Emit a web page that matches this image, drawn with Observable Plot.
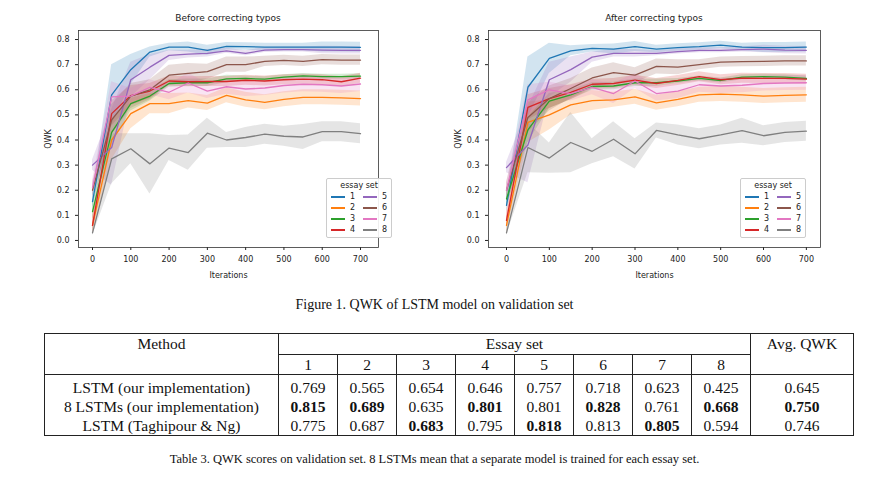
<!DOCTYPE html>
<html lang="en">
<head>
<meta charset="utf-8">
<title>QWK of LSTM model</title>
<script src="https://cdn.jsdelivr.net/npm/d3@7"></script>
<script src="https://cdn.jsdelivr.net/npm/@observablehq/plot@0.6"></script>
<style>
  body { margin: 0; width: 869px; height: 477px; position: relative; background: #fff; font-family: 'DejaVu Sans', sans-serif; }
  .chart { position: absolute; top: 20px; }
  .ttl { position: absolute; top: 13px; font-size: 9px; color: #222; text-align: center; }
  .legend { position: absolute; border: 1px solid #ccc; background: rgba(255,255,255,0.9); font-size: 8px; color: #222; padding: 2px 4px; border-radius: 2px; }
  .legend .lt { text-align: center; margin-bottom: 1px; }
  .legend .grid { display: grid; grid-template-columns: auto auto; column-gap: 8px; row-gap: 0px; }
  .legend .it { display: flex; align-items: center; height: 11px; }
  .legend .sw { display: inline-block; width: 14px; height: 0; border-top: 2px solid; margin-right: 5px; }
  .cap { position: absolute; left: 0; width: 869px; text-align: center; font-family: 'Liberation Serif', serif; color: #111; }
  table { position: absolute; left: 44px; top: 333px; border-collapse: collapse; font-family: 'Liberation Serif', serif; font-size: 15.5px; color: #111; }
  td { text-align: center; padding: 0 2px; line-height: 19px; }
  .b { font-weight: bold; }
</style>
</head>
<body>
<div class="ttl" style="left:78px;width:300px">Before correcting typos</div>
<div class="ttl" style="left:488px;width:332px">After correcting typos</div>
<div id="left" class="chart" style="left:40px"></div>
<div id="right" class="chart" style="left:450px"></div>
<div class="cap" style="top:297px;font-size:14px">Figure 1. QWK of LSTM model on validation set</div>
<table id="tbl"></table>
<div class="cap" style="top:452px;font-size:12.5px">Table 3. QWK scores on validation set. 8 LSTMs mean that a separate model is trained for each essay set.</div>
<script>
const iterations = [0,50,100,150,200,250,300,350,400,450,500,550,600,650,700];
const essaySets = ["1","2","3","4","5","6","7","8"];
const colors = ["#1f77b4","#ff7f0e","#2ca02c","#d62728","#9467bd","#8c564b","#e377c2","#7f7f7f"];

// before correcting typos
const before1 = [0.155,0.58,0.68,0.75,0.77,0.77,0.757,0.773,0.772,0.77,0.77,0.77,0.77,0.77,0.769];
const before2 = [0.06,0.40,0.505,0.545,0.545,0.557,0.547,0.578,0.56,0.55,0.562,0.57,0.57,0.568,0.565];
const before3 = [0.115,0.43,0.545,0.575,0.625,0.628,0.628,0.643,0.645,0.642,0.65,0.655,0.652,0.652,0.654];
const before4 = [0.06,0.505,0.577,0.595,0.635,0.632,0.633,0.633,0.638,0.635,0.64,0.642,0.64,0.632,0.646];
const before5 = [0.30,0.37,0.64,0.69,0.737,0.742,0.745,0.755,0.745,0.758,0.76,0.76,0.758,0.757,0.757];
const before6 = [0.20,0.48,0.575,0.60,0.658,0.665,0.672,0.70,0.70,0.713,0.717,0.713,0.72,0.718,0.718];
const before7 = [0.21,0.572,0.575,0.61,0.59,0.627,0.595,0.612,0.603,0.607,0.617,0.622,0.62,0.615,0.623];
const before8 = [0.03,0.325,0.365,0.305,0.368,0.35,0.427,0.40,0.41,0.423,0.415,0.412,0.433,0.433,0.425];

// after correcting typos
const after1 = [0.14,0.61,0.725,0.755,0.765,0.762,0.772,0.762,0.768,0.772,0.778,0.77,0.768,0.768,0.77];
const after2 = [0.06,0.47,0.50,0.54,0.557,0.56,0.572,0.548,0.562,0.58,0.583,0.58,0.575,0.578,0.58];
const after3 = [0.165,0.44,0.555,0.58,0.613,0.615,0.628,0.628,0.635,0.645,0.637,0.65,0.652,0.65,0.645];
const after4 = [0.08,0.53,0.565,0.59,0.622,0.625,0.638,0.625,0.637,0.652,0.64,0.646,0.645,0.645,0.642];
const after5 = [0.29,0.38,0.64,0.68,0.73,0.745,0.745,0.745,0.752,0.757,0.757,0.76,0.762,0.758,0.757];
const after6 = [0.20,0.49,0.565,0.605,0.647,0.668,0.658,0.693,0.69,0.70,0.71,0.712,0.713,0.715,0.715];
const after7 = [0.20,0.56,0.60,0.585,0.61,0.585,0.635,0.585,0.595,0.62,0.615,0.618,0.625,0.627,0.628];
const after8 = [0.03,0.37,0.328,0.39,0.355,0.403,0.345,0.438,0.42,0.405,0.42,0.437,0.417,0.43,0.435];

// approx half-width of the shaded band
const spread1 = [0.03,0.12,0.06,0.02,0.015,0.02,0.02,0.015,0.015,0.015,0.015,0.015,0.02,0.02,0.02];
const spread2 = [0.03,0.08,0.06,0.04,0.04,0.03,0.03,0.03,0.03,0.03,0.03,0.03,0.03,0.03,0.03];
const spread3 = [0.03,0.05,0.03,0.02,0.015,0.015,0.015,0.015,0.01,0.01,0.01,0.01,0.01,0.01,0.01];
const spread4 = [0.03,0.05,0.04,0.03,0.02,0.02,0.02,0.02,0.02,0.02,0.02,0.02,0.02,0.02,0.02];
const spread5 = [0.02,0.15,0.07,0.05,0.02,0.015,0.015,0.01,0.01,0.01,0.01,0.01,0.015,0.015,0.015];
const spread6 = [0.03,0.06,0.05,0.04,0.04,0.04,0.03,0.03,0.03,0.02,0.02,0.02,0.02,0.02,0.02];
const spread7 = [0.03,0.06,0.03,0.03,0.03,0.04,0.03,0.03,0.03,0.03,0.03,0.03,0.03,0.03,0.03];
const spread8 = [0.01,0.10,0.06,0.12,0.05,0.07,0.06,0.03,0.04,0.04,0.04,0.05,0.04,0.04,0.04];

// table
const methods = ["LSTM (our implementation)","8 LSTMs (our implementation)","LSTM (Taghipour & Ng)"];
const scores = [
  ["0.769","0.565","0.654","0.646","0.757","0.718","0.623","0.425"],
  ["0.815","0.689","0.635","0.801","0.801","0.828","0.761","0.668"],
  ["0.775","0.687","0.683","0.795","0.818","0.813","0.805","0.594"]
];
const avgQwk = ["0.645","0.750","0.746"];
const bestRow = [1,1,2,1,2,1,2,1]; // row index holding the bold value per set
const bestAvg = 1;

const spreads = [spread1,spread2,spread3,spread4,spread5,spread6,spread7,spread8];

function tidy(series) {
  const rows = [];
  series.forEach((vals, i) => vals.forEach((v, j) => rows.push({
    set: essaySets[i], it: iterations[j], qwk: v,
    lo: v - spreads[i][j], hi: v + spreads[i][j]
  })));
  return rows;
}

function chart(series, xDomain, plotWidth) {
  const data = tidy(series);
  return Plot.plot({
    width: 38 + plotWidth + 5, height: 262,
    marginLeft: 38, marginRight: 5, marginTop: 10, marginBottom: 35,
    style: {fontSize: "8px", fontFamily: "'DejaVu Sans', sans-serif", color: "#222"},
    x: {domain: xDomain, ticks: [0,100,200,300,400,500,600,700], tickSize: 3, label: "Iterations", labelAnchor: "center", labelOffset: 30, labelArrow: "none"},
    y: {domain: [-0.028, 0.836], ticks: d3.range(0, 0.81, 0.1), tickFormat: ".1f", tickSize: 3, label: "QWK", labelAnchor: "center", labelOffset: 33, labelArrow: "none"},
    color: {domain: essaySets, range: colors},
    marks: [
      Plot.areaY(data, {x: "it", y1: "lo", y2: "hi", z: "set", fill: "set", fillOpacity: 0.2}),
      Plot.line(data, {x: "it", y: "qwk", z: "set", stroke: "set", strokeWidth: 1.3}),
      Plot.frame({stroke: "#333", strokeWidth: 0.8})
    ]
  });
}

document.getElementById("left").appendChild(chart([before1,before2,before3,before4,before5,before6,before7,before8], [-36.6, 747], 300));
document.getElementById("right").appendChild(chart([after1,after2,after3,after4,after5,after6,after7,after8], [-42, 733], 332));

function legend(left, top) {
  const div = document.createElement("div");
  div.className = "legend";
  div.style.left = left + "px";
  div.style.top = top + "px";
  let html = '<div class="lt">essay set</div><div class="grid">';
  [0,4,1,5,2,6,3,7].forEach(i => {
    html += `<div class="it"><span class="sw" style="border-color:${colors[i]}"></span>${essaySets[i]}</div>`;
  });
  div.innerHTML = html + "</div>";
  document.body.appendChild(div);
}
legend(326, 178);
legend(740, 178);

// table
const tbl = document.getElementById("tbl");
const B = "1px solid #222";
let h = `<tr style="border-top:${B}"><td rowspan="2" style="width:229px;border-left:${B};border-right:${B};vertical-align:top;line-height:20px">Method</td>`
  + `<td colspan="8" style="border-bottom:${B};line-height:20px">Essay set</td>`
  + `<td rowspan="2" style="width:98px;border-left:${B};border-right:${B};vertical-align:top;line-height:20px">Avg. QWK</td></tr>`;
h += "<tr>" + essaySets.map((s, i) => `<td style="width:54px;${i < 7 ? "border-right:" + B : ""}">${s}</td>`).join("") + "</tr>";
methods.forEach((m, r) => {
  h += `<tr style="${r === 0 ? "border-top:" + B : ""}${r === 2 ? ";border-bottom:" + B : ""}"><td style="border-left:${B};border-right:${B}${r === 0 ? ";padding-top:3px" : ""}">${m}</td>`;
  scores[r].forEach((v, i) => {
    h += `<td class="${bestRow[i] === r ? "b" : ""}" style="${i < 7 ? "border-right:" + B : ""}${r === 0 ? ";padding-top:3px" : ""}">${v}</td>`;
  });
  h += `<td class="${bestAvg === r ? "b" : ""}" style="border-left:${B};border-right:${B}${r === 0 ? ";padding-top:3px" : ""}">${avgQwk[r]}</td></tr>`;
});
tbl.innerHTML = h;
</script>
</body>
</html>
